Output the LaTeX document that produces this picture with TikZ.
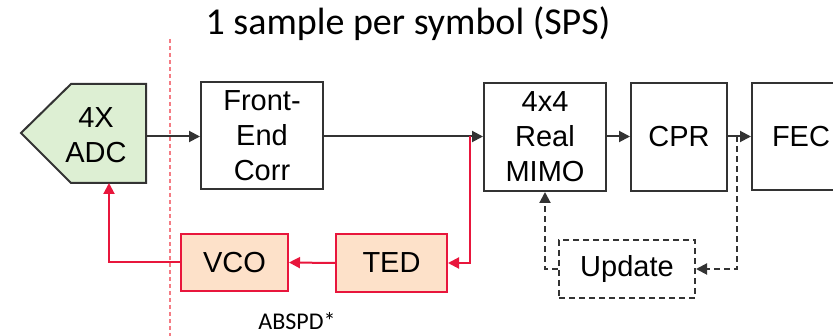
\documentclass[tikz,border=0pt]{standalone}
\usepackage{fontspec}
\setmainfont{Liberation Sans}
\newfontfamily\calfont{Carlito}
\usetikzlibrary{arrows.meta}

\definecolor{adcgreen}{HTML}{DDEFD3}
\definecolor{loopred}{HTML}{E8163C}
\definecolor{loopfill}{HTML}{FDE1C9}
\definecolor{edgegray}{HTML}{333333}
\definecolor{dotred}{HTML}{F47C84}

\tikzset{
  boxfont/.style={font=\fontsize{29}{35}\selectfont},
  blk/.style={draw=edgegray, line width=2pt, fill=white, align=center,
    boxfont, inner sep=0pt},
  loopblk/.style={blk, draw=loopred, fill=loopfill},
  updblk/.style={blk, dash pattern=on 6pt off 4pt},
  arr/.style={draw=edgegray, line width=2pt, -{Triangle[length=11pt,width=11pt]}},
  redarr/.style={draw=loopred, line width=2pt, -{Triangle[length=11pt,width=11pt]}},
  dasharr/.style={arr, dash pattern=on 6pt off 4pt},
}

\begin{document}
\begin{tikzpicture}[x=1pt,y=-1pt]
\useasboundingbox (0,0) rectangle (833,336);

% title
\node[font=\calfont\fontsize{38}{44}\selectfont] (title) at (408,24) {1 sample per symbol (SPS)};

% sampling boundary
\coordinate (bndtop) at (170,39);
\coordinate (bndbot) at (170,336);
\draw[dotred, line width=2pt, dash pattern=on 4pt off 3pt] (bndtop) -- (bndbot);

% ADC pentagon
\draw[draw=edgegray, line width=2pt, fill=adcgreen]
  (21,133) -- (71,84) -- (146,84) -- (146,183) -- (71,183) -- cycle;
\node[align=center, boxfont, inner sep=0pt] (adc) at (96,135) {4X\\ADC};
\coordinate (adcE) at (146,136.5);
\coordinate (adcS) at (109,183);

% forward path
\node[blk, minimum width=122pt, minimum height=107pt] (fe) at (262,136) {Front-\\End\\Corr};
\node[blk, minimum width=122pt, minimum height=108pt] (mimo) at (545,137) {4x4\\Real\\MIMO};
\node[blk, minimum width=96pt, minimum height=108pt] (cpr) at (679,137) {CPR};
\node[blk, minimum width=98pt, minimum height=107pt, text width=96pt] (fec) at (801,136.5) {FEC};

% timing loop
\node[loopblk, minimum width=107pt, minimum height=57pt] (vco) at (234.5,262.5) {VCO};
\node[loopblk, minimum width=111pt, minimum height=58pt] (ted) at (391.5,263) {TED};
\node[font=\calfont\fontsize{24}{28}\selectfont] (abspd) at (297,321) {ABSPD*};

% equalizer update
\node[updblk, minimum width=136pt, minimum height=58pt] (upd) at (627,269) {Update};

\coordinate (j1) at (470,136.5);
\coordinate (j2) at (737,136.5);

\draw[arr] (adcE) -- (adcE -| fe.west);
\draw[arr] (fe.east |- j1) -- (j1 -| mimo.west);
\draw[arr] (mimo.east |- j2) -- (j2 -| cpr.west);
\draw[arr] (cpr.east |- j2) -- (j2 -| fec.west);

\draw[redarr] (j1) |- (ted.east);
\draw[redarr] (ted.west) -- (vco.east);
\draw[redarr] (vco.west) -| (adcS);

\draw[dasharr] (j2) |- (upd.east);
\draw[dasharr] (upd.west) -| (mimo.south);
\end{tikzpicture}
\end{document}
